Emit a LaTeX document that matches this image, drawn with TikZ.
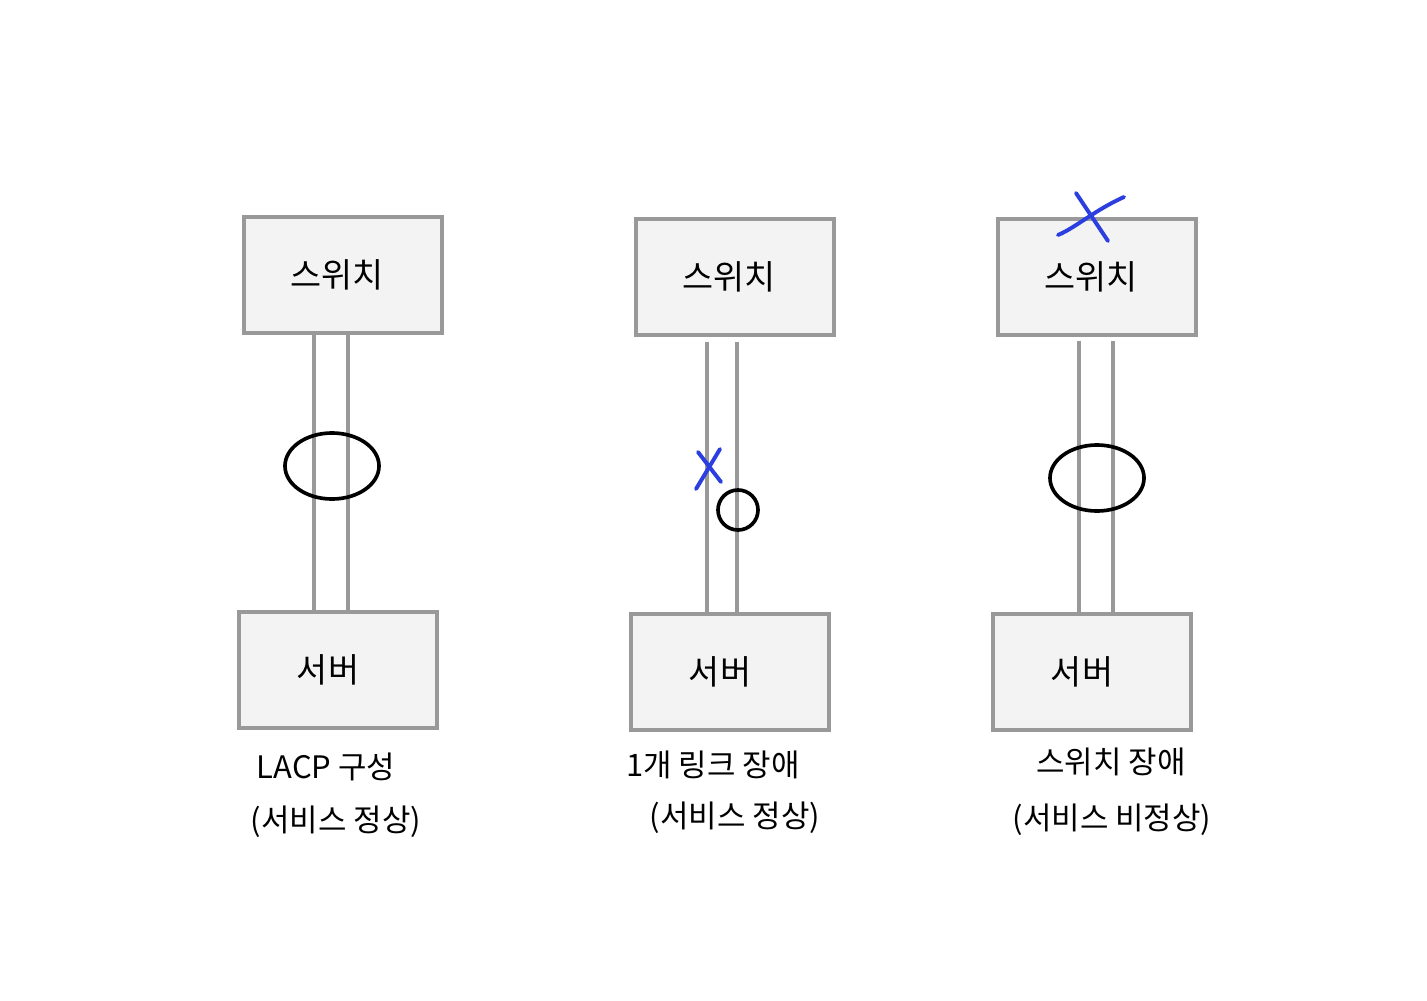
\documentclass[tikz,border=0pt]{standalone}
\usepackage{fontspec}
\setmainfont{Noto Sans CJK KR}
\usetikzlibrary{shapes.geometric}

\definecolor{boxfill}{HTML}{F3F3F3}
\definecolor{boxline}{HTML}{999999}
\definecolor{failblue}{HTML}{2B3FE0}

\tikzset{
  device/.style={draw=boxline, fill=boxfill, line width=2.4pt,
    minimum width=4.95cm, minimum height=2.9cm, inner sep=0pt,
    font=\fontsize{24}{28}\selectfont},
  link/.style={draw=boxline, line width=2.8pt},
  lag/.style={draw=black, line width=2.6pt, ellipse, inner sep=0pt},
  fail/.style={draw=failblue, line width=2.8pt, line cap=round},
  caption/.style={font=\fontsize{22}{26}\selectfont, inner sep=0pt}
}

\begin{document}
\begin{tikzpicture}[x=0.025cm, y=-0.025cm]
  \useasboundingbox (0,0) rectangle (1427,1000);

  % LACP normal
  \node[device] (sw1)  at (343,275) {\hspace*{-0.3cm}스위치};
  \node[device] (srv1) at (338,670) {\hspace*{-0.5cm}서버};
  \draw[link] ([xshift=-0.725cm]sw1.south) -- ([xshift=-0.725cm]sw1.south |- srv1.north);
  \draw[link] ([xshift=0.125cm]sw1.south) -- ([xshift=0.125cm]sw1.south |- srv1.north);
  \node[lag, minimum width=2.35cm, minimum height=1.65cm] (lag1) at (332,466) {};
  \node[caption] (cap1a) at (326,767) {LACP 구성};
  \node[caption] (cap1b) at (336,822) {(서비스 정상)};

  % one link down
  \node[device] (sw2)  at (735,277) {\hspace*{-0.3cm}스위치};
  \node[device] (srv2) at (730,672) {\hspace*{-0.5cm}서버};
  \draw[link] ([xshift=-0.7cm, yshift=-0.125cm]sw2.south) -- ([xshift=-0.7cm]sw2.south |- srv2.north);
  \draw[link] ([xshift=0.05cm, yshift=-0.125cm]sw2.south) -- ([xshift=0.05cm]sw2.south |- srv2.north);
  \node[lag, circle, minimum size=1cm] (lag2) at (738,510) {};
  \draw[fail] (720,449) -- (696,489);
  \draw[fail] (698,452) -- (721,482);
  \node[caption] (cap2a) at (713,765) {1개 링크 장애};
  \node[caption] (cap2b) at (735,818) {(서비스 정상)};

  % switch down
  \node[device] (sw3)  at (1097,277) {\hspace*{-0.3cm}스위치};
  \node[device] (srv3) at (1092,672) {\hspace*{-0.5cm}서버};
  \draw[link] ([xshift=-0.45cm, yshift=-0.1cm]sw3.south) -- ([xshift=-0.45cm]sw3.south |- srv3.north);
  \draw[link] ([xshift=0.4cm, yshift=-0.1cm]sw3.south) -- ([xshift=0.4cm]sw3.south |- srv3.north);
  \node[lag, minimum width=2.35cm, minimum height=1.65cm] (lag3) at (1097,478) {};
  \draw[fail] (1076,193) -- (1108,241);
  \draw[fail] (1124,197) .. controls (1095,210) and (1075,228) .. (1058,235);
  \node[caption] (cap3a) at (1111,762) {스위치 장애};
  \node[caption] (cap3b) at (1112,820) {(서비스 비정상)};
\end{tikzpicture}
\end{document}
